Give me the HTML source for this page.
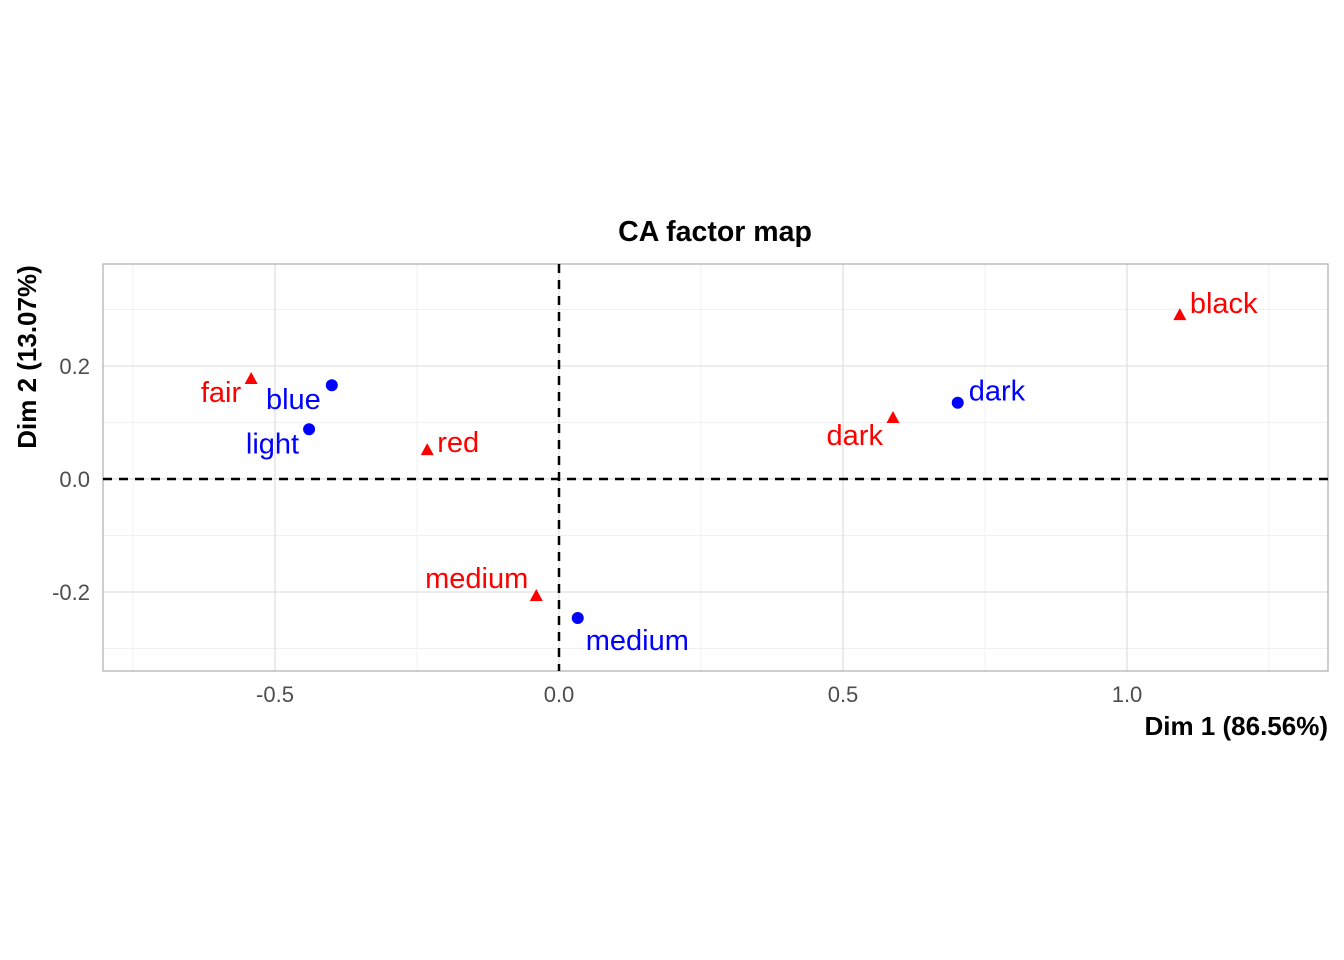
<!DOCTYPE html>
<html><head><meta charset="utf-8"><style>body{margin:0;background:#fff}svg{display:block;font-family:"Liberation Sans",Arial,sans-serif}</style></head>
<body>
<svg id="c" width="1344" height="960"></svg>
<script>
const rowNames=["fair","red","medium","dark","black"];
const rowX=[-0.542,-0.232,-0.040,0.588,1.093];
const rowY=[0.177,0.051,-0.207,0.108,0.290];
const colNames=["blue","light","medium","dark"];
const colX=[-0.400,-0.440,0.033,0.702];
const colY=[0.166,0.088,-0.246,0.135];
const xTicks=[-0.5,0,0.5,1.0];
const xTickLabels=["-0.5","0.0","0.5","1.0"];
const yTicks=[-0.2,0,0.2];
const yTickLabels=["-0.2","0.0","0.2"];
const xMinor=[-0.75,-0.25,0.25,0.75,1.25];
const yMinor=[-0.3,-0.1,0.1,0.3];
// label offsets (px): [dx, dy, anchor]
const rowLab=[[-10,13,"end"],[10,-8,"start"],[-8,-18,"end"],[-10,17,"end"],[10,-12,"start"]];
const colLab=[[-11,14,"end"],[-10,14,"end"],[8,22,"start"],[11,-12,"start"]];
const L=103,R=1328,T=264,B=671;
const X=v=>559+v*568, Y=v=>479-v*565;
const s=document.getElementById('c'),NS="http://www.w3.org/2000/svg";
function el(t,a,p){const e=document.createElementNS(NS,t);for(const k in a)e.setAttribute(k,a[k]);(p||s).appendChild(e);return e;}
const g=el('g',{});

xMinor.forEach(v=>el('line',{x1:X(v),x2:X(v),y1:T,y2:B,stroke:'#f0f0f0','stroke-width':1},g));
yMinor.forEach(v=>el('line',{x1:L,x2:R,y1:Y(v),y2:Y(v),stroke:'#f0f0f0','stroke-width':1},g));
xTicks.forEach(v=>el('line',{x1:X(v),x2:X(v),y1:T,y2:B,stroke:'#e0e0e0','stroke-width':1.3},g));
yTicks.forEach(v=>el('line',{x1:L,x2:R,y1:Y(v),y2:Y(v),stroke:'#e0e0e0','stroke-width':1.3},g));
let p=el('rect',{x:L,y:T,width:R-L,height:B-T,fill:'none',stroke:'#b3b3b3','stroke-width':1.3});

let h=el('line',{x1:L,x2:R,y1:Y(0),y2:Y(0),stroke:'#000','stroke-width':2.5,'stroke-dasharray':'9,7'});

let v=el('line',{x1:X(0),x2:X(0),y1:T,y2:B,stroke:'#000','stroke-width':2.5,'stroke-dasharray':'9,7'});

xTicks.forEach((t,i)=>{const e=el('text',{x:X(t),y:702,'font-size':22,fill:'#4d4d4d','text-anchor':'middle'});e.textContent=xTickLabels[i];
});
yTicks.forEach((t,i)=>{const e=el('text',{x:90,y:Y(t)+8,'font-size':22,fill:'#4d4d4d','text-anchor':'end'});e.textContent=yTickLabels[i];
});
rowNames.forEach((n,i)=>{const x=X(rowX[i]),y=Y(rowY[i]);
const m=el('polygon',{points:`${x},${y-7} ${x-6.5},${y+5} ${x+6.5},${y+5}`,fill:'red'});

const t=el('text',{x:x+rowLab[i][0],y:y+rowLab[i][1]+10,'font-size':29,fill:'red','text-anchor':rowLab[i][2]});t.textContent=n;
});
colNames.forEach((n,i)=>{const x=X(colX[i]),y=Y(colY[i]);
const m=el('circle',{cx:x,cy:y,r:6,fill:'blue'});

const t=el('text',{x:x+colLab[i][0],y:y+colLab[i][1]+10,'font-size':29,fill:'blue','text-anchor':colLab[i][2]});t.textContent=n;
});
let ti=el('text',{x:715,y:241,'font-size':28.5,'font-weight':'bold','text-anchor':'middle'});ti.textContent='CA factor map';

let xt=el('text',{x:1328,y:735,'font-size':26,'font-weight':'bold','text-anchor':'end'});xt.textContent='Dim 1 (86.56%)';

let yt=el('text',{x:0,y:0,'font-size':26,'font-weight':'bold','text-anchor':'middle',transform:'translate(36,357) rotate(-90)'});yt.textContent='Dim 2 (13.07%)';

</script>
</body></html>
